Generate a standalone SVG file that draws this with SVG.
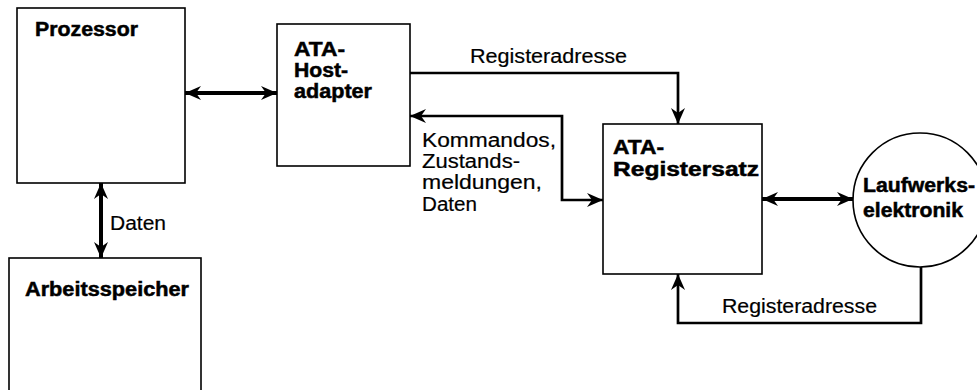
<svg xmlns="http://www.w3.org/2000/svg" width="977" height="390" viewBox="0 0 977 390">
<style>
.box{fill:#fff;stroke:#000;stroke-width:1.6}
.b{font-family:"Liberation Sans",Arial,sans-serif;font-weight:bold;font-size:20px;fill:#000;stroke:#000;stroke-width:0.5}
.t{font-family:"Liberation Sans",Arial,sans-serif;font-size:20px;fill:#000;stroke:#000;stroke-width:0.2}
.thick{fill:none;stroke:#000;stroke-width:4}
.thin{fill:none;stroke:#000;stroke-width:2.7}
</style>
<defs>
<marker id="ah" markerUnits="userSpaceOnUse" viewBox="-16 -8 17 16" refX="0" refY="0" markerWidth="17" markerHeight="16" orient="auto-start-reverse">
<path d="M0,0 L-16,-7 L-11,0 L-16,7 Z" fill="#000"/>
</marker>
</defs>
<g id="prozessor">
<rect class="box" x="17" y="8" width="168" height="175"/>
<text class="b" x="35" y="36" textLength="103" lengthAdjust="spacingAndGlyphs">Prozessor</text>
</g>
<g id="hostadapter">
<rect class="box" x="277" y="24" width="133" height="142"/>
<text class="b" x="294" y="56" textLength="51" lengthAdjust="spacingAndGlyphs">ATA-</text>
<text class="b" x="294" y="77" textLength="54" lengthAdjust="spacingAndGlyphs">Host-</text>
<text class="b" x="294" y="98" textLength="78" lengthAdjust="spacingAndGlyphs">adapter</text>
</g>
<g id="arbeitsspeicher">
<rect class="box" x="9" y="258" width="192" height="140"/>
<text class="b" x="25" y="296" textLength="164" lengthAdjust="spacingAndGlyphs">Arbeitsspeicher</text>
</g>
<g id="registersatz">
<rect class="box" x="603" y="124" width="159" height="150"/>
<text class="b" x="613" y="154" textLength="51" lengthAdjust="spacingAndGlyphs">ATA-</text>
<text class="b" x="613" y="176" textLength="146" lengthAdjust="spacingAndGlyphs">Registersatz</text>
</g>
<g id="laufwerkselektronik">
<circle class="box" cx="920" cy="200" r="67"/>
<text class="b" x="863" y="192" textLength="112" lengthAdjust="spacingAndGlyphs">Laufwerks-</text>
<text class="b" x="863" y="217" textLength="100" lengthAdjust="spacingAndGlyphs">elektronik</text>
</g>
<g id="connectors">
<path class="thick" d="M185,93 H277" marker-start="url(#ah)" marker-end="url(#ah)"/>
<path class="thick" d="M101,183 V258" marker-start="url(#ah)" marker-end="url(#ah)"/>
<path class="thick" d="M762,199 H853" marker-start="url(#ah)" marker-end="url(#ah)"/>
<path class="thin" d="M410,73 H678 V124" marker-end="url(#ah)"/>
<path class="thin" d="M410,116 H562 V200 H603" marker-start="url(#ah)" marker-end="url(#ah)"/>
<path class="thin" d="M921,267 V323 H678 V274" marker-end="url(#ah)"/>
<text class="t" x="110" y="230" textLength="56" lengthAdjust="spacingAndGlyphs">Daten</text>
<text class="t" x="470" y="63" textLength="157" lengthAdjust="spacingAndGlyphs">Registeradresse</text>
<text class="t" x="422" y="147" textLength="134" lengthAdjust="spacingAndGlyphs">Kommandos,</text>
<text class="t" x="422" y="168" textLength="98" lengthAdjust="spacingAndGlyphs">Zustands-</text>
<text class="t" x="422" y="189" textLength="120" lengthAdjust="spacingAndGlyphs">meldungen,</text>
<text class="t" x="422" y="211" textLength="55" lengthAdjust="spacingAndGlyphs">Daten</text>
<text class="t" x="722" y="313" textLength="155" lengthAdjust="spacingAndGlyphs">Registeradresse</text>
</g>
</svg>
